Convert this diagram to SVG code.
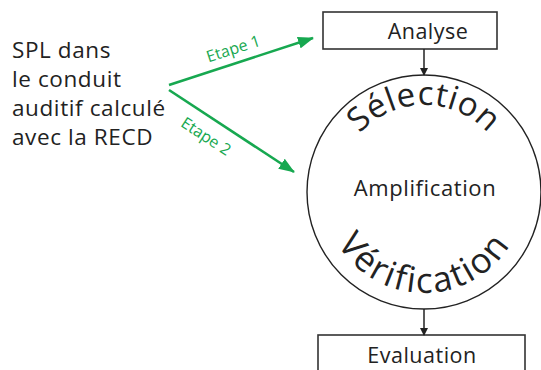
<svg xmlns="http://www.w3.org/2000/svg" width="541" height="370" viewBox="0 0 541 370">
<style>
.t{font-family:"Open Sans","Noto Sans","Liberation Sans",sans-serif;fill:#222}
.g{font-family:"Open Sans","Noto Sans","Liberation Sans",sans-serif;fill:#17a850;font-size:16px}
.box{fill:#fff;stroke:#333;stroke-width:1.6}
.k{stroke:#222;stroke-width:1.5;fill:none}
.gl{stroke:#17a850;stroke-width:2.6;fill:none}
</style>
<defs>
<marker id="ak" markerWidth="8" markerHeight="8" refX="7" refY="4" orient="auto" markerUnits="userSpaceOnUse"><path d="M0,0 L8,4 L0,8 Z" fill="#222"/></marker>
<marker id="ag" markerWidth="16" markerHeight="12" refX="15" refY="6" orient="auto" markerUnits="userSpaceOnUse"><path d="M0,0 L16,6 L0,12 Z" fill="#17a850"/></marker>
<path id="top" d="M337,192 A87,87 0 0 1 511,192"/>
<path id="bot" d="M323,192 A101,101 0 0 0 525,192"/>
</defs>
<g id="source">
<text class="t" font-size="22.5" x="12" y="58" letter-spacing="0.6">SPL dans</text>
<text class="t" font-size="22.5" x="12" y="87" letter-spacing="0.6">le conduit</text>
<text class="t" font-size="22.5" x="12" y="116" letter-spacing="0.6">auditif calculé</text>
<text class="t" font-size="22.5" x="12" y="145" letter-spacing="0.6">avec la RECD</text>
</g>
<g id="analyse">
<rect class="box" x="323" y="12" width="174" height="37"/>
<text class="t" font-size="21.5" x="428" y="39" text-anchor="middle" letter-spacing="0.5">Analyse</text>
</g>
<g id="cycle">
<circle cx="424" cy="192" r="117" fill="none" stroke="#222" stroke-width="1.4"/>
<text class="t" font-size="33" letter-spacing="0.6"><textPath href="#top" startOffset="50%" text-anchor="middle">Sélection</textPath></text>
<text class="t" font-size="22" x="425" y="196" text-anchor="middle" letter-spacing="0.6">Amplification</text>
<text class="t" font-size="35" letter-spacing="2"><textPath href="#bot" startOffset="50%" text-anchor="middle">Vérification</textPath></text>
</g>
<g id="evaluation">
<rect class="box" x="318" y="335" width="207" height="45"/>
<text class="t" font-size="21.5" x="422" y="363" text-anchor="middle" letter-spacing="0.5">Evaluation</text>
</g>
<g id="connectors">
<line class="k" x1="424" y1="49" x2="424" y2="75" marker-end="url(#ak)"/>
<line class="k" x1="424" y1="309" x2="424" y2="335" marker-end="url(#ak)"/>
<line class="gl" x1="169" y1="85" x2="313" y2="38" marker-end="url(#ag)"/>
<line class="gl" x1="169" y1="90" x2="294" y2="172" marker-end="url(#ag)"/>
<text class="g" transform="translate(235,54) rotate(-18)" text-anchor="middle">Etape 1</text>
<text class="g" transform="translate(203,141) rotate(33)" text-anchor="middle">Etape 2</text>
</g>
</svg>
